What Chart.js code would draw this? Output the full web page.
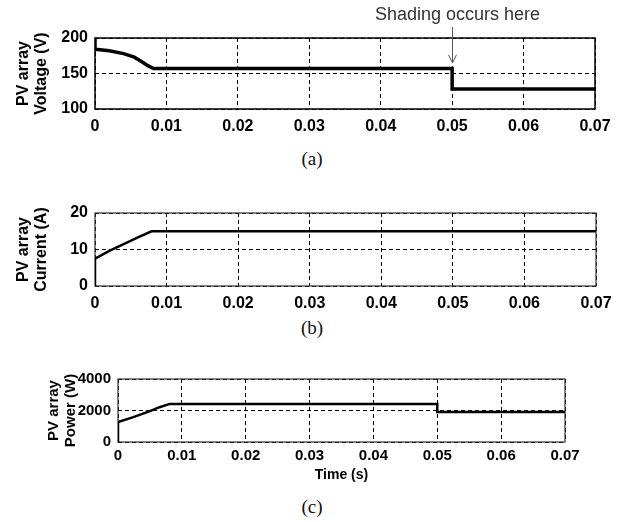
<!DOCTYPE html>
<html>
<head>
<meta charset="utf-8">
<script src="https://cdn.jsdelivr.net/npm/chart.js@4.4.1/dist/chart.umd.min.js"></script>
<style>
  body { margin: 0; background: #fff; }
  #page { position: relative; width: 624px; height: 522px; overflow: hidden; background: #fff; }
  canvas { position: absolute; left: 0; }
  .cap {
    position: absolute; left: 0; width: 624px; text-align: center;
    font-family: "Liberation Serif", "Times New Roman", serif;
    font-size: 19px; line-height: 19px; color: #111;
  }
</style>
</head>
<body>
<div id="page">
  <canvas id="chartV" width="624" height="140" style="top:0px"></canvas>
  <div class="cap" style="top:149px">(a)</div>
  <canvas id="chartI" width="624" height="140" style="top:175px"></canvas>
  <div class="cap" style="top:318px">(b)</div>
  <canvas id="chartP" width="624" height="150" style="top:345px"></canvas>
  <div class="cap" style="top:497px">(c)</div>
</div>
<script>
// PV array voltage (V)
const voltTime = [0, 0, 0.002, 0.004, 0.0055, 0.0065, 0.0074, 0.0082, 0.05, 0.05, 0.07];
const voltage  = [200, 184, 182, 178, 173, 167, 161, 157, 157, 128, 128];

// PV array current (A)
const currTime = [0, 0, 0.002, 0.004, 0.006, 0.0079, 0.07];
const current  = [0, 7.5, 9.6, 11.5, 13.3, 15, 15];

// PV array power (W)
const powTime = [0, 0, 0.0024, 0.005, 0.0065, 0.0081, 0.05, 0.05, 0.07];
const power   = [0, 1260, 1580, 1960, 2210, 2420, 2420, 1910, 1910];

const shadingTime = 0.05;
const shadingLabel = "Shading occurs here";

const sans = '"Liberation Sans", Arial, sans-serif';

// solid box round the plot area (grid lines are dashed)
const frameBox = {
    id: "frameBox",
    beforeDatasetsDraw(chart, args, opts) {
        const { ctx, chartArea: a } = chart;
        ctx.save();
        ctx.setLineDash([]);
        ctx.strokeStyle = opts.color;
        ctx.lineWidth = opts.width;
        ctx.strokeRect(a.left, a.top, a.right - a.left, a.bottom - a.top);
        ctx.restore();
    },
};

const shadingNote = {
    id: "shadingNote",
    afterDraw(chart) {
        const { ctx, scales } = chart;
        const x = Math.round(scales.x.getPixelForValue(shadingTime)) + 0.5;
        const tipY = scales.y.getPixelForValue(165);
        ctx.save();
        ctx.fillStyle = "#333";
        ctx.font = "18px " + sans;
        ctx.textAlign = "center";
        ctx.textBaseline = "middle";
        ctx.fillText(shadingLabel, x + 5, 15);
        ctx.strokeStyle = "#555";
        ctx.lineWidth = 1;
        ctx.beginPath();
        ctx.moveTo(x, 27);
        ctx.lineTo(x, tipY);
        ctx.moveTo(x - 4, tipY - 8);
        ctx.lineTo(x, tipY);
        ctx.lineTo(x + 4, tipY - 8);
        ctx.stroke();
        ctx.restore();
    },
};

function makeChart(id, c) {
    const points = c.t.map((t, i) => ({ x: t, y: c.v[i] }));
    return new Chart(document.getElementById(id), {
        type: "line",
        data: {
            datasets: [
                {
                    data: points,
                    borderColor: "#000",
                    borderWidth: c.lineWidth,
                    borderJoinStyle: "miter",
                    pointRadius: 0,
                    tension: 0,
                    fill: false,
                },
            ],
        },
        options: {
            responsive: false,
            animation: false,
            layout: { padding: c.pad },
            plugins: {
                legend: { display: false },
                tooltip: { enabled: false },
                frameBox: { color: c.boxColor, width: c.boxWidth },
            },
            scales: {
                x: {
                    type: "linear",
                    min: 0,
                    max: 0.07,
                    afterFit: (s) => { s.height = c.xHeight; },
                    ticks: {
                        stepSize: 0.01,
                        color: "#000",
                        font: { family: sans, size: c.fontSize, weight: "bold" },
                        padding: c.xPad,
                        maxRotation: 0,
                        autoSkip: false,
                        callback: (v) => (v === 0 ? "0" : v.toFixed(2)),
                    },
                    grid: { color: "#000", lineWidth: 1, drawTicks: false },
                    border: { display: false, dash: [4, 3] },
                    title: c.xTitle || { display: false },
                },
                y: {
                    min: c.yMin,
                    max: c.yMax,
                    afterFit: (s) => { s.width = c.yWidth; },
                    ticks: {
                        stepSize: c.yStep,
                        color: "#000",
                        font: { family: sans, size: c.fontSize, weight: "bold" },
                        padding: 7,
                        callback: (v) => String(v),
                    },
                    grid: { color: "#000", lineWidth: 1, drawTicks: false },
                    border: { display: false, dash: [4, 3] },
                    title: {
                        display: true,
                        text: ["PV array", c.yLabel],
                        color: "#000",
                        font: { family: sans, size: c.titleSize, weight: "bold", lineHeight: 1.15 },
                        padding: { top: c.titlePad, bottom: 0 },
                    },
                },
            },
        },
        plugins: c.extra ? [frameBox, c.extra] : [frameBox],
    });
}

makeChart("chartV", {
    t: voltTime, v: voltage, lineWidth: 3.5,
    yMin: 100, yMax: 200, yStep: 50, yLabel: "Voltage (V)",
    pad: { top: 38, right: 29, left: 0, bottom: 0 },
    xHeight: 31, yWidth: 95, fontSize: 16, titleSize: 16, titlePad: 14, xPad: 8,
    boxColor: "#000", boxWidth: 1.5, extra: shadingNote,
});

makeChart("chartI", {
    t: currTime, v: current, lineWidth: 2.5,
    yMin: 0, yMax: 20, yStep: 10, yLabel: "Current (A)",
    pad: { top: 38, right: 28, left: 0, bottom: 0 },
    xHeight: 29, yWidth: 95, fontSize: 16, titleSize: 16, titlePad: 14, xPad: 8,
    boxColor: "#333", boxWidth: 1.2,
});

makeChart("chartP", {
    t: powTime, v: power, lineWidth: 2.5,
    yMin: 0, yMax: 4000, yStep: 2000, yLabel: "Power (W)",
    pad: { top: 34, right: 59, left: 0, bottom: 0 },
    xHeight: 53, yWidth: 118, fontSize: 15, titleSize: 15, titlePad: 45, xPad: 5,
    boxColor: "#333", boxWidth: 1.2,
    xTitle: {
        display: true,
        text: "Time (s)",
        color: "#000",
        font: { family: sans, size: 14, weight: "bold" },
        padding: { top: 2, bottom: 11 },
    },
});
</script>
</body>
</html>
